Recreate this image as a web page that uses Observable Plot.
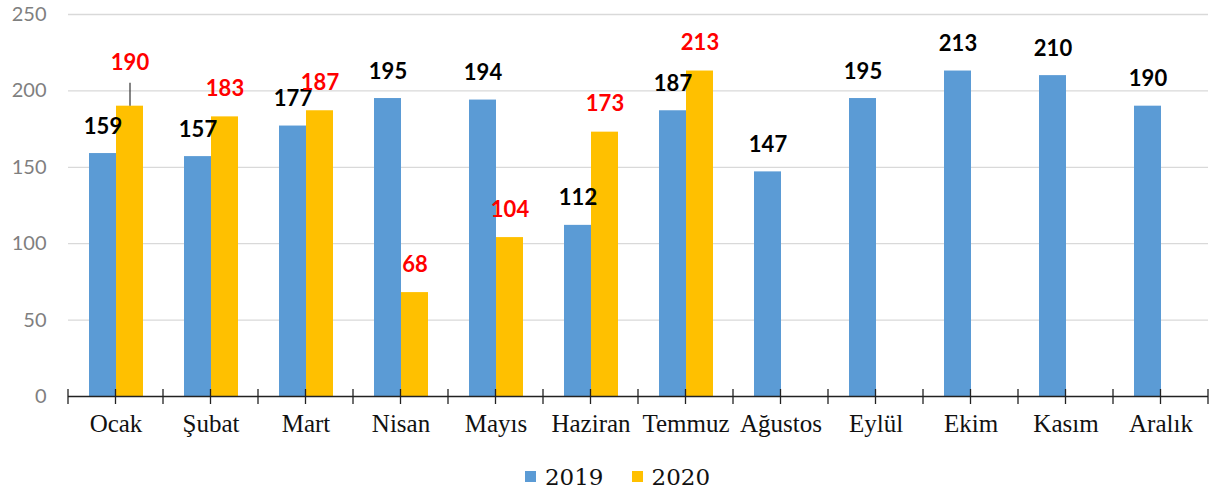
<!DOCTYPE html>
<html><head><meta charset="utf-8">
<script src="https://cdn.jsdelivr.net/npm/d3@7"></script>
<script src="https://cdn.jsdelivr.net/npm/@observablehq/plot@0.6"></script>
<style>
body{margin:0;background:#fff;}
#legend{display:flex;justify-content:center;align-items:center;height:43px;padding-left:22px;font-family:"DejaVu Serif",serif;font-size:23px;color:#111;}
#legend .item{display:flex;align-items:center;margin:0 14px;}
#legend .sw{width:11px;height:11px;margin-right:9px;}
</style></head><body>
<div id="chart"></div>
<div id="legend"></div>
<script>
const months = ["Ocak","Şubat","Mart","Nisan","Mayıs","Haziran","Temmuz","Ağustos","Eylül","Ekim","Kasım","Aralık"];
const years = ["2019","2020"];
const values2019 = [159,157,177,195,194,112,187,147,195,213,210,190];
const values2020 = [190,183,187,68,104,173,213];
const yTicks = [0,50,100,150,200,250];
const colors = ["#5B9BD5","#FFC000"];
const labelColors = ["#000000","#FF0000"];
const leaderLabels = [{month:"Ocak", year:"2020"}];

const data = [
  ...values2019.map((v,i)=>({month:months[i], year:years[0], value:v})),
  ...values2020.map((v,i)=>({month:months[i], year:years[1], value:v}))
];
const isLeader = d => leaderLabels.some(l => l.month === d.month && l.year === d.year);
const labelOpts = (yr) => ({fx:"month", x:"year", y:"value", text:d=>String(d.value), fill:labelColors[years.indexOf(yr)], fontWeight:"bold", fontSize:22, fontFamily:"Lato, sans-serif"});

const plot = Plot.plot({
  width:1213, height:455, marginLeft:67, marginRight:5, marginTop:14, marginBottom:59,
  style:{fontFamily:"Lato, sans-serif", fontSize:"20px", background:"#fff", color:"#7f7f7f", overflow:"visible"},
  fx:{domain:months, padding:0, label:null, tickSize:0, tickPadding:18},
  x:{domain:years, paddingInner:0, paddingOuter:0.73, axis:null},
  y:{domain:[0,250], ticks:yTicks, tickSize:0, tickPadding:22, label:null},
  color:{domain:years, range:colors},
  marks:[
    Plot.ruleY(yTicks.slice(1), {stroke:"#d9d9d9", strokeWidth:1.3}),
    Plot.barY(data, {fx:"month", x:"year", y:"value", fill:"year"}),
    Plot.ruleY([0], {stroke:"#222", strokeWidth:1.3}),
    Plot.text(data.filter(d=>d.year===years[0] && !isLeader(d)), {...labelOpts(years[0]), dy:-27}),
    Plot.text(data.filter(d=>d.year===years[1] && !isLeader(d)), {...labelOpts(years[1]), dy:-28}),
    Plot.text(data.filter(isLeader), {...labelOpts(years[1]), dy:-43}),
    Plot.ruleX(data.filter(isLeader), {fx:"month", x:"year", y1:"value", y2:d=>d.value+15, stroke:"#333", strokeWidth:1.2})
  ]
});

// x-axis label styling
d3.select(plot).selectAll('[aria-label^="fx-axis"] text')
  .attr("font-family", "'Liberation Serif', serif").attr("font-size", 25).attr("fill", "#111");

// tick marks at band edges and centers
const fx = plot.scale("fx"), ys = plot.scale("y");
const y0 = ys.apply(0);
const g = d3.select(plot).append("g").attr("stroke", "#222").attr("stroke-width", 1.3);
const tickXs = [];
months.forEach((m,i) => {
  const s = fx.apply(m);
  tickXs.push(s, s + fx.bandwidth/2);
  if (i === months.length-1) tickXs.push(s + fx.bandwidth);
});
tickXs.forEach(x => g.append("line").attr("x1", x).attr("x2", x).attr("y1", y0-7).attr("y2", y0+8));

document.getElementById("chart").appendChild(plot);

const legend = document.getElementById("legend");
years.forEach((yr,i) => {
  const it = document.createElement("div"); it.className = "item";
  const sw = document.createElement("div"); sw.className = "sw"; sw.style.background = colors[i];
  const tx = document.createElement("span"); tx.textContent = yr;
  it.appendChild(sw); it.appendChild(tx); legend.appendChild(it);
});
</script>
</body></html>
